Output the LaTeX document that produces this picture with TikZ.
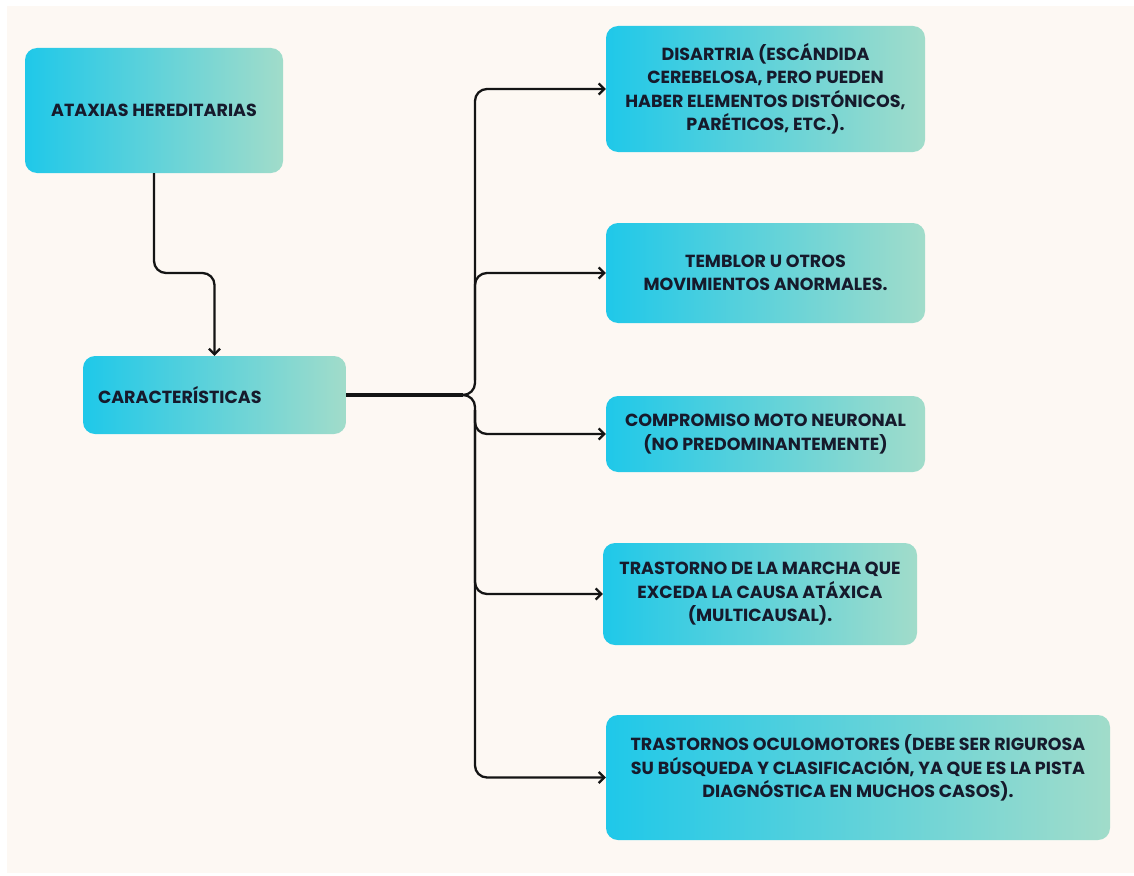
\documentclass[tikz,border=0pt]{standalone}
\usepackage{fontspec}
\setmainfont{Poppins}
\usetikzlibrary{arrows.meta}

\definecolor{paper}{HTML}{FDF8F3}
\definecolor{ink}{HTML}{161A2C}
\definecolor{cardL}{HTML}{1FC8E9}
\definecolor{cardR}{HTML}{A1DCCA}

\tikzset{
  card/.style={rounded corners=12pt, left color=cardL, right color=cardR,
    draw=none, text=ink, align=center, inner sep=0pt,
    font=\bfseries\fontsize{17.5}{23.5}\selectfont},
  cardtext/.style={text=ink, align=center, inner sep=0pt,
    font=\bfseries\fontsize{17.5}{23.5}\selectfont},
  link/.style={line width=2.3pt, rounded corners=12pt, draw=black!92},
  tip/.style={-{Straight Barb[length=5.5pt,width=11pt]}},
}

\begin{document}
\begin{tikzpicture}[x=1pt,y=-1pt]
  % page and paper
  \useasboundingbox (0,0) rectangle (1134,875);
  \fill[white] (0,0) rectangle (1134,875);
  \fill[paper] (7,6) rectangle (1134,873);

  % boxes
  \node[card, minimum width=258pt, minimum height=125pt] (hered) at (154,110.5)
    {ATAXIAS HEREDITARIAS};
  \node[card, text width=233pt, align=left, inner xsep=15pt, minimum height=78pt]
    (carac) at (214.5,395) {CARACTERÍSTICAS};

  \node[card, minimum width=319pt, minimum height=126pt] (dis) at (765.5,89)
    {DISARTRIA (ESCÁNDIDA\\CEREBELOSA, PERO PUEDEN\\HABER ELEMENTOS DISTÓNICOS,\\PARÉTICOS, ETC.).};
  \node[card, minimum width=319pt, minimum height=100pt] (trem) at (765.5,273)
    {TEMBLOR U OTROS\\MOVIMIENTOS ANORMALES.};
  \node[card, minimum width=319pt, minimum height=76pt] (moto) at (765.5,434)
    {COMPROMISO MOTO NEURONAL\\(NO PREDOMINANTEMENTE)};
  \node[card, minimum width=314pt, minimum height=102pt] (marcha) at (760,594)
    {TRASTORNO DE LA MARCHA QUE\\EXCEDA LA CAUSA ATÁXICA\\(MULTICAUSAL).};
  \node[card, minimum width=504pt, minimum height=125pt] (ocul) at (858,777.5) {};
  \node[cardtext] (oculT) at (858,768)
    {TRASTORNOS OCULOMOTORES (DEBE SER RIGUROSA\\SU BÚSQUEDA Y CLASIFICACIÓN, YA QUE ES LA PISTA\\DIAGNÓSTICA EN MUCHOS CASOS).};

  % connectors
  \coordinate (bend) at (0,273);
  \draw[link, tip] (hered.south) -- (hered.south |- bend) -- (carac.north |- bend) -- (carac.north);

  \coordinate (trunk) at (475,395);
  \draw[link, tip] (carac.east) -- (trunk) -- (trunk |- dis.west) -- (dis.west);
  \draw[link, tip] (carac.east) -- (trunk) -- (trunk |- ocul.west) -- (ocul.west);
  \draw[line width=3.2pt, draw=black!92] (carac.east) -- ([xshift=-12pt]trunk);
  \draw[link, tip] ([yshift=15pt]trunk) -- (trunk |- trem.west) -- (trem.west);
  \draw[link, tip] ([yshift=-15pt]trunk) -- (trunk |- moto.west) -- (moto.west);
  \draw[link, tip] ([yshift=-15pt]trunk) -- (trunk |- marcha.west) -- (marcha.west);
\end{tikzpicture}
\end{document}
